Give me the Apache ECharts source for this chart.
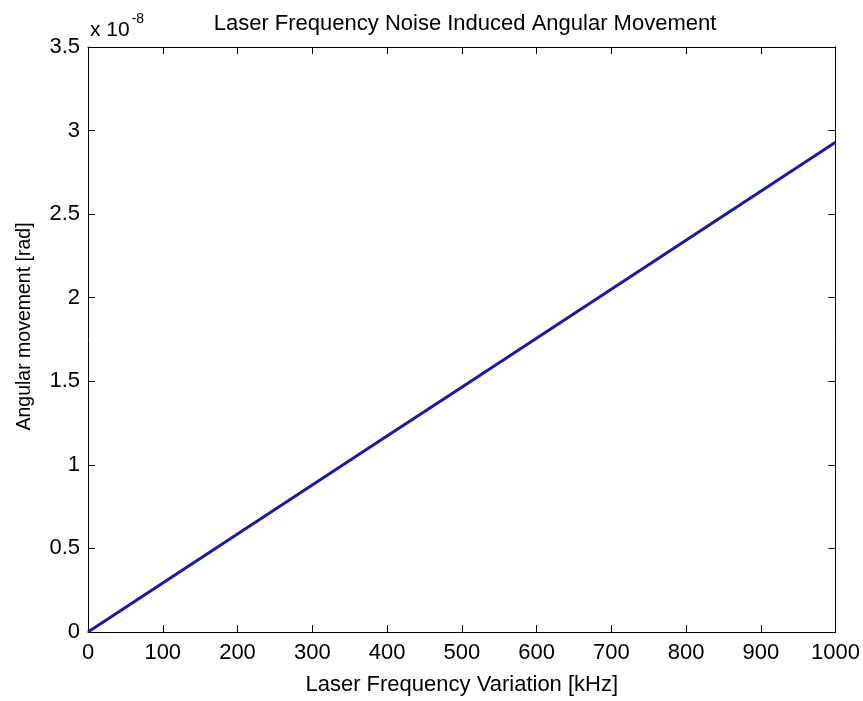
<!DOCTYPE html>
<html>
<head>
<meta charset="utf-8">
<script src="https://cdn.jsdelivr.net/npm/echarts@6/dist/echarts.min.js"></script>
<style>
  html, body { margin: 0; padding: 0; background: #fff; }
  #chart { width: 863px; height: 701px; }
</style>
</head>
<body>
<div id="chart"></div>
<script>
// x in kHz, y in units of 1e-8 rad
const freqKHz = [0, 100, 200, 300, 400, 500, 600, 700, 800, 900, 1000]
const angleE8 = [0, 0.293, 0.586, 0.879, 1.172, 1.465, 1.758, 2.051, 2.344, 2.637, 2.93]
const yTicks = ['0', '0.5', '1', '1.5', '2', '2.5', '3', '3.5']

const fontFamily = '"Liberation Sans", Arial, sans-serif'
const chart = echarts.init(document.getElementById('chart'))

// shared style for the four box sides
const boxAxis = {
  axisLine: { show: true, onZero: false, lineStyle: { color: '#000', width: 1 } },
  axisTick: { show: true, inside: true, length: 7, lineStyle: { color: '#000' } },
  splitLine: { show: false }
}

chart.setOption({
  animation: false,
  textStyle: { fontFamily: fontFamily },
  title: {
    text: 'Laser Frequency Noise Induced Angular Movement',
    left: 460,
    textAlign: 'center',
    top: 8,
    textStyle: { fontSize: 22, fontWeight: 'normal', color: '#000', fontFamily: fontFamily }
  },
  grid: { left: 88, right: 24, top: 47, bottom: 62 },
  xAxis: [
    Object.assign({
      type: 'value', min: 0, max: 1000, interval: 100, position: 'bottom',
      name: 'Laser Frequency Variation [kHz]', nameLocation: 'middle', nameGap: 42,
      nameTextStyle: { fontSize: 22, color: '#000' },
      axisLabel: { fontSize: 22, color: '#000', margin: 10, formatter: v => String(v) }
    }, boxAxis),
    Object.assign({
      type: 'value', min: 0, max: 1000, interval: 100, position: 'top',
      axisLabel: { show: false }
    }, boxAxis)
  ],
  yAxis: [
    Object.assign({
      type: 'value', min: 0, max: 3.5, interval: 0.5, position: 'left',
      name: 'Angular movement [rad]', nameLocation: 'middle', nameGap: 53, nameRotate: 90,
      nameTextStyle: { fontSize: 19.5, color: '#000', padding: [0, 0, 0, 26] },
      axisLabel: {
        fontSize: 22, color: '#000', margin: 8,
        formatter: v => yTicks[Math.round(v * 2)]
      }
    }, boxAxis),
    Object.assign({
      type: 'value', min: 0, max: 3.5, interval: 0.5, position: 'right',
      axisLabel: { show: false }
    }, boxAxis)
  ],
  graphic: [{
    type: 'text',
    left: 90,
    top: 12,
    style: {
      text: '{a|x 10}{b|-8}',
      rich: {
        a: { fontSize: 21, fontFamily: fontFamily, fill: '#000', padding: [8, 0, 0, 0] },
        b: { fontSize: 14, fontFamily: fontFamily, fill: '#000', verticalAlign: 'top', padding: [0, 0, 14, 2] }
      }
    }
  }],
  series: [{
    type: 'line',
    xAxisIndex: 0,
    yAxisIndex: 0,
    data: freqKHz.map((x, i) => [x, angleE8[i]]),
    showSymbol: false,
    lineStyle: { color: '#1a1aa8', width: 3 }
  }]
})
</script>
</body>
</html>
